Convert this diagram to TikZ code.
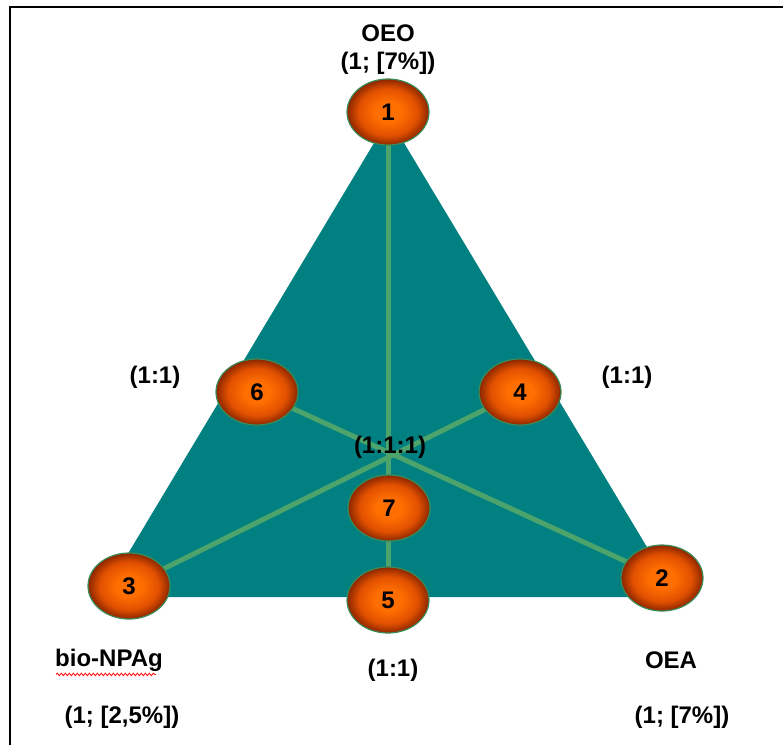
\documentclass[tikz,border=0pt]{standalone}
\usepackage{fontspec}
\setmainfont{Liberation Sans}
\usetikzlibrary{shapes.geometric,backgrounds,decorations.pathmorphing}
\definecolor{tealfill}{RGB}{0,128,128}
\definecolor{medline}{RGB}{76,164,108}
\definecolor{blobin}{RGB}{255,110,0}
\definecolor{blobmid}{RGB}{225,80,0}
\definecolor{blobout}{RGB}{140,38,0}
\definecolor{blobrim}{RGB}{60,140,90}
\pgfdeclareradialshading{blobshade}{\pgfpoint{0bp}{0bp}}{%
  color(0bp)=(blobin); color(8bp)=(blobin); color(18bp)=(blobmid);
  color(25bp)=(blobout); color(50bp)=(blobout)}
\begin{document}
\begin{tikzpicture}[x=1pt,y=-1pt,
  font=\fontsize{24}{28}\selectfont\bfseries,
  blob/.style={ellipse,draw=blobrim,line width=1.2pt,inner sep=0pt,
    minimum width=82pt,minimum height=66pt,shading=blobshade},
  median/.style={draw=medline,line width=5pt},
  lbl/.style={inner sep=1pt}]
\useasboundingbox (0,0) rectangle (783,745);
\draw[line width=2pt] (783,7) -- (10,7) -- (10,745);
% corners of the triangle
\coordinate (apex) at (389,118);
\coordinate (bleft) at (102,597);
\coordinate (bright) at (677,597);
% mixtures
\node[blob] (n1) at (388,112) {1};
\node[blob] (n6) at (257,392) {6};
\node[blob] (n4) at (520,392) {4};
\node[blob] (n7) at (389,508) {7};
\node[blob] (n5) at (388,600) {5};
\node[blob] (n3) at (129,586) {3};
\node[blob] (n2) at (662,578) {2};
\begin{pgfonlayer}{background}
  \fill[tealfill] (apex) -- (bleft) -- (bright) -- cycle;
  \draw[median] (n1.center) -- (n5.center);
  \draw[median] (n6.center) -- (n2.center);
  \draw[median] (n4.center) -- (n3.center);
\end{pgfonlayer}
\node[lbl] (ratio7) at (390,447) {(1:1:1)};
% ratios and components
\node[lbl] (oeo) at (388,33) {OEO};
\node[lbl] (oeoval) at (388,63) {(1; [7\%])};
\node[lbl] (ratio6) at (155,377) {(1:1)};
\node[lbl] (ratio4) at (627,377) {(1:1)};
\node[lbl] (ratio5) at (393,670) {(1:1)};
\node[lbl] (npag) at (109,660) {bio-NPAg};
\node[lbl] (npagval) at (122,717) {(1; [2,5\%])};
\node[lbl] (oea) at (671,660) {OEA};
\node[lbl] (oeaval) at (682,717) {(1; [7\%])};
\draw[red,line width=0.8pt,decorate,
  decoration={snake,amplitude=1.2pt,segment length=4pt}]
  ([xshift=2pt,yshift=-2pt]npag.south west) -- ([xshift=-8pt,yshift=-2pt]npag.south east);
\end{tikzpicture}
\end{document}
